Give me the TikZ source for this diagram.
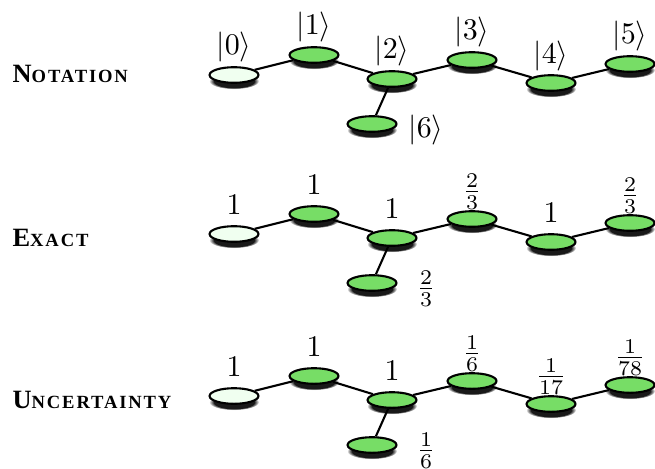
\documentclass[tikz,border=0pt]{standalone}
\usepackage{fontspec}
\newfontfamily\labfont[LetterSpace=10]{Liberation Serif}
\usetikzlibrary{shapes.geometric,shadows,fadings}
\definecolor{nodegreen}{RGB}{119,221,102}
\definecolor{startfill}{RGB}{240,255,240}
\newcommand\fakesc[2]{{\labfont\bfseries\fontsize{8.8}{9}\selectfont #1\fontsize{6.2}{7}\selectfont #2}}
\begin{document}
\begin{tikzpicture}[x=0.3333pt,y=-0.3333pt,
  qnode/.style={ellipse, draw=black, line width=0.7pt, fill=nodegreen,
    minimum width=16.3pt, minimum height=5.2pt, inner sep=0pt,
    circular drop shadow={shadow xshift=0pt, shadow yshift=-2pt, shadow scale=1.02,
      fill=black, opacity=0.9, path fading={circle with fuzzy edge 20 percent}}},
  startnode/.style={qnode, fill=startfill},
  conn/.style={line width=0.7pt},
  lab/.style={anchor=base, inner sep=0pt},
  rowlab/.style={anchor=base west, inner sep=0pt}
]
\useasboundingbox (0,0) rectangle (655,468);
\foreach \p/\off in {a/0,b/159,c/321}{
  \begin{scope}[shift={(0,\off)}]
    \node[startnode] (\p0) at (234,75) {};
    \node[qnode] (\p1) at (314,55) {};
    \node[qnode] (\p2) at (392,79) {};
    \node[qnode] (\p3) at (472,60) {};
    \node[qnode] (\p4) at (551,83) {};
    \node[qnode] (\p5) at (630,64) {};
    \node[qnode] (\p6) at (372,124) {};
    \draw[conn] (\p0) -- (\p1) -- (\p2) -- (\p3) -- (\p4) -- (\p5);
    \draw[conn] (\p2) -- (\p6);
  \end{scope}
}
% row labels
\node[rowlab] (rn) at (12,82) {\fakesc{N}{OTATION}};
\node[rowlab] (re) at (12,246) {\fakesc{E}{XACT}};
\node[rowlab] (ru) at (12,408) {\fakesc{U}{NCERTAINTY}};
% notation labels
\node[lab] (la0) at (234,55) {$|0\rangle$};
\node[lab] (la1) at (314,35) {$|1\rangle$};
\node[lab] (la2) at (392,59) {$|2\rangle$};
\node[lab] (la3) at (472,40) {$|3\rangle$};
\node[lab] (la4) at (551,63) {$|4\rangle$};
\node[lab] (la5) at (630,44) {$|5\rangle$};
\node[lab] (la6) at (426,137) {$|6\rangle$};
% exact labels
\node[lab] (lb0) at (234,214) {$1$};
\node[lab] (lb1) at (314,194) {$1$};
\node[lab] (lb2) at (392,218) {$1$};
\node[lab] (lb3) at (472,199) {$\frac{2}{3}$};
\node[lab] (lb4) at (551,222) {$1$};
\node[lab] (lb5) at (630,203) {$\frac{2}{3}$};
\node[lab] (lb6) at (426,296) {$\frac{2}{3}$};
% uncertainty labels
\node[lab] (lc0) at (234,376) {$1$};
\node[lab] (lc1) at (314,356) {$1$};
\node[lab] (lc2) at (392,380) {$1$};
\node[lab] (lc3) at (472,361) {$\frac{1}{6}$};
\node[lab] (lc4) at (551,384) {$\frac{1}{17}$};
\node[lab] (lc5) at (630,365) {$\frac{1}{78}$};
\node[lab] (lc6) at (426,458) {$\frac{1}{6}$};
\end{tikzpicture}
\end{document}
